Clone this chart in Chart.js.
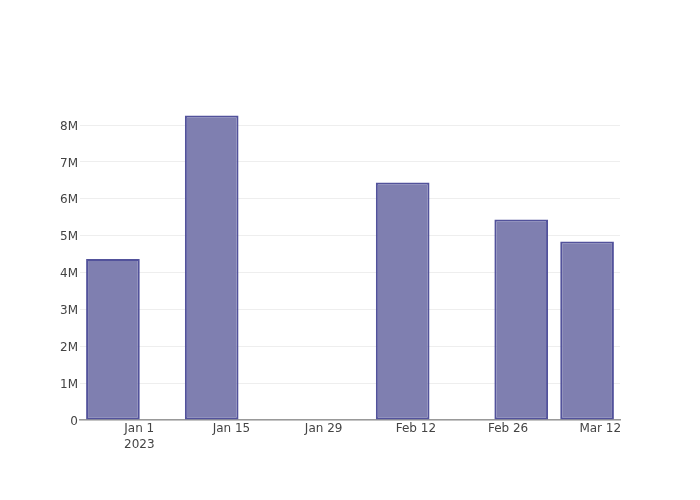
<!DOCTYPE html>
<html>
<head>
<meta charset="utf-8">
<script src="https://cdn.jsdelivr.net/npm/chart.js@4"></script>
<style>
  html, body { margin: 0; padding: 0; background: #fff; }
  #wrap { width: 700px; height: 500px; }
</style>
</head>
<body>
<div id="wrap"><canvas id="chart" width="700" height="500"></canvas></div>
<script>
// bar dates and values
const dates = ['2022-12-28', '2023-01-12', '2023-02-10', '2023-02-28', '2023-03-10'];
const values = [4370000, 8260000, 6440000, 5440000, 4840000];

// x tick labels, one every 14 days from Jan 1 2023
const xTickDays = [0, 14, 28, 42, 56, 70];
const xTickLabels = [['Jan 1', '2023'], 'Jan 15', 'Jan 29', 'Feb 12', 'Feb 26', 'Mar 12'];

// y ticks
const yTicks = [0, 1000000, 2000000, 3000000, 4000000, 5000000, 6000000, 7000000, 8000000];
const yTickLabels = ['0', '1M', '2M', '3M', '4M', '5M', '6M', '7M', '8M'];

const origin = Date.UTC(2023, 0, 1);
const dayOf = s => {
    const [y, m, d] = s.split('-').map(Number);
    return (Date.UTC(y, m - 1, d) - origin) / 86400000;
};
const points = dates.map((d, i) => ({ x: dayOf(d), y: values[i] }));

const font = { family: "'DejaVu Sans', Verdana, sans-serif", size: 12, lineHeight: 1.3 };

new Chart(document.getElementById('chart'), {
    type: 'bar',
    data: {
        datasets: [{
            data: points,
            backgroundColor: '#7f7fb0',
            borderColor: '#52529b',
            borderWidth: 2,
            borderSkipped: false,
            barPercentage: 0.815,
            categoryPercentage: 1
        }]
    },
    options: {
        responsive: false,
        animation: false,
        layout: { padding: { top: 100, right: 80, left: 0, bottom: 0 } },
        plugins: { legend: { display: false }, tooltip: { enabled: false } },
        scales: {
            x: {
                type: 'linear',
                offset: false,
                min: -9,
                max: 73,
                afterFit: s => { s.height = 80; },
                afterBuildTicks: s => { s.ticks = xTickDays.map(v => ({ value: v })); },
                grid: { display: false, drawTicks: false, offset: false },
                border: { display: true, color: '#999', width: 1.5 },
                ticks: {
                    maxRotation: 0,
                    autoSkip: false,
                    padding: 1,
                    color: '#444',
                    font: font,
                    callback: (v, i) => xTickLabels[i]
                }
            },
            y: {
                type: 'linear',
                min: 0,
                max: 8680000,
                afterFit: s => { s.width = 80; },
                afterBuildTicks: s => { s.ticks = yTicks.map(v => ({ value: v })); },
                grid: { color: '#eee', lineWidth: 1, drawTicks: false },
                border: { display: false },
                ticks: {
                    autoSkip: false,
                    padding: 2,
                    labelOffset: 1.5,
                    color: '#444',
                    font: font,
                    callback: (v, i) => yTickLabels[i]
                }
            }
        }
    }
});
</script>
</body>
</html>
